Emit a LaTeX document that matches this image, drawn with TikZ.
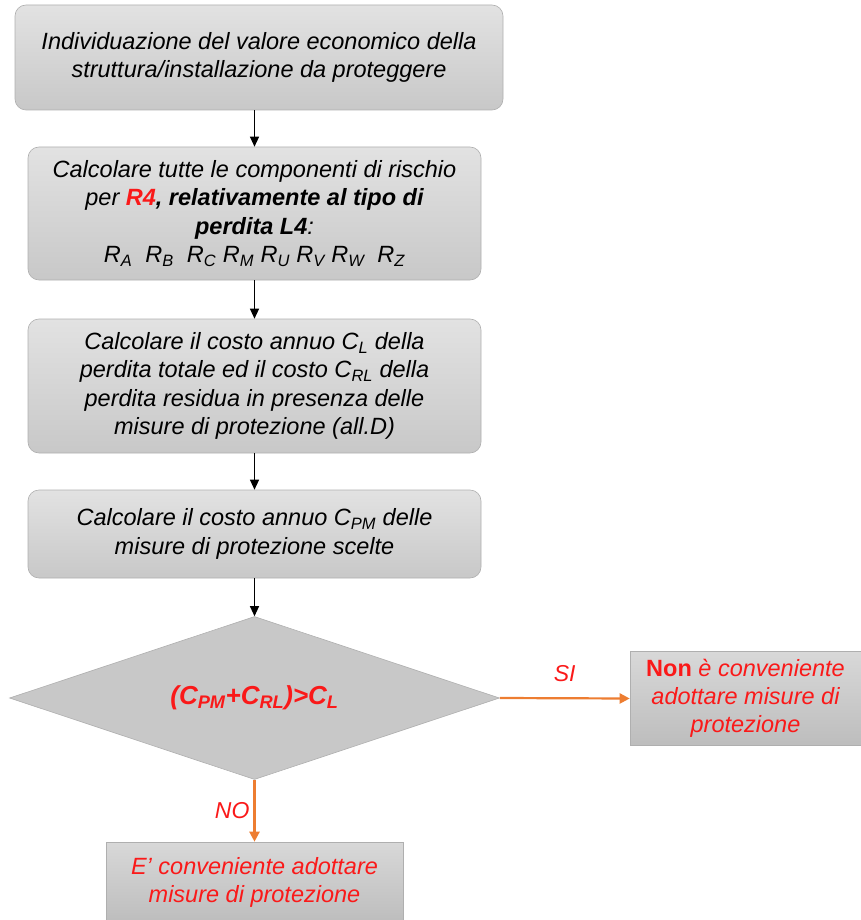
\documentclass[tikz,border=0pt]{standalone}
\usepackage{fontspec}
\setmainfont{Liberation Sans}
\usetikzlibrary{arrows.meta, shapes.geometric, positioning}
\usepackage{xcolor}
\definecolor{boxtop}{RGB}{226,226,226}
\definecolor{boxbottom}{RGB}{200,200,200}
\definecolor{boxborder}{RGB}{175,175,175}
\definecolor{flowred}{RGB}{250,25,25}
\definecolor{floworange}{RGB}{237,125,49}
\tikzset{stepnode/.style={rounded corners=11pt, draw=boxborder, line width=0.6pt, top color=boxtop, bottom color=boxbottom, align=center, inner sep=0pt, font=\itshape\fontsize{23.5}{28.5}\selectfont},
endnode/.style={draw=boxborder, line width=0.6pt, top color=boxtop!90!gray, bottom color=boxbottom!85!gray, align=center, inner sep=0pt, text=flowred, font=\itshape\fontsize{23.5}{28}\selectfont},
checknode/.style={diamond, aspect=3, draw=boxborder, line width=0.6pt, fill=boxbottom, inner sep=0pt, text=flowred, font=\bfseries\itshape\fontsize{26}{30}\selectfont},
blackarrow/.style={-{Triangle[width=9pt, length=10pt]}, line width=1.2pt},
orangearrow/.style={-{Triangle[width=10pt, length=10pt]}, floworange, line width=2.2pt},
choicelabel/.style={text=flowred, inner sep=1pt, font=\itshape\fontsize{23}{26}\selectfont}}

\begin{document}
\begin{tikzpicture}
    \useasboundingbox (0pt, 0pt) rectangle (861pt, -920pt);

    % Steps
    \node[stepnode, minimum width=488pt, minimum height=105pt] (valore) at (259pt, -57.5pt) {Individuazione del valore economico della\\ struttura/installazione da proteggere};
    \node[stepnode, minimum width=453pt, minimum height=133pt] (rischio) at (254.5pt, -213.5pt) {Calcolare tutte le componenti di rischio\\ per \textcolor{flowred}{\textbf{R4}}\textbf{, relativamente al tipo di}\\ \textbf{perdita L4}:\\ R\textsubscript{A}\ \ R\textsubscript{B}\ \ R\textsubscript{C}\ R\textsubscript{M}\ R\textsubscript{U}\ R\textsubscript{V}\ R\textsubscript{W}\ \ R\textsubscript{Z}};
    \node[stepnode, minimum width=453pt, minimum height=134pt] (costoperdita) at (254.5pt, -386pt) {Calcolare il costo annuo C\textsubscript{L} della\\ perdita totale ed il costo C\textsubscript{RL} della\\ perdita residua in presenza delle\\ misure di protezione (all.D)};
    \node[stepnode, minimum width=453pt, minimum height=88pt] (costomisure) at (254.5pt, -534pt) {Calcolare il costo annuo C\textsubscript{PM} delle\\ misure di protezione scelte};

    % Decision
    \node[checknode, minimum width=490pt, minimum height=163pt] (confronto) at (254.5pt, -698pt) {(C\textsubscript{PM}+C\textsubscript{RL})>C\textsubscript{L}};
    \node[endnode, minimum width=231pt, minimum height=94pt] (nonconv) at (745.5pt, -698.5pt) {{\upshape\bfseries Non} è conveniente\\ adottare misure di\\ protezione};
    \node[endnode, minimum width=297pt, minimum height=80pt] (conv) at (254.5pt, -882pt) {E' conveniente adottare\\ misure di protezione};

    % Arrows
    \draw[blackarrow] (valore.south -| rischio.north) -- (rischio.north);
    \draw[blackarrow] (rischio) -- (costoperdita);
    \draw[blackarrow] (costoperdita) -- (costomisure);
    \draw[blackarrow] (costomisure) -- (confronto);
    \draw[orangearrow] (confronto.east) -- node[choicelabel, above=14pt] (si) {SI} (nonconv.west);
    \draw[orangearrow] (confronto.south) -- node[choicelabel, left=3pt] (no) {NO} (conv.north);
\end{tikzpicture}
\end{document}
